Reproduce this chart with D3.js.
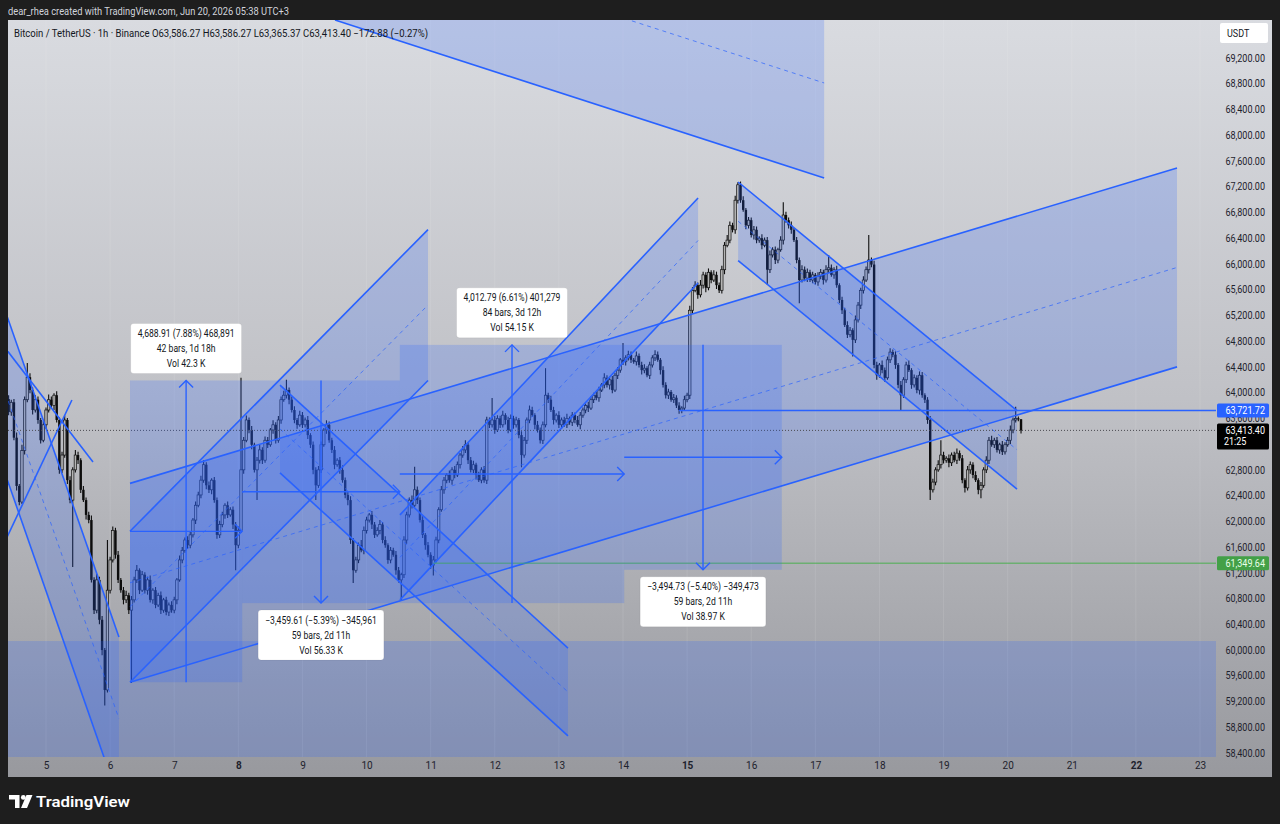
<!DOCTYPE html>
<html><head><meta charset="utf-8">
<script src="https://cdn.jsdelivr.net/npm/d3@7"></script>
<style>
body{margin:0;background:#1e1e1e;overflow:hidden}
svg{display:block}
text{font-family:Roboto,"Liberation Sans",sans-serif}
</style></head>
<body><svg id="c" width="1280" height="824"></svg>
<script>
// ---------- DATA ----------
const creditText = "dear_rhea created with TradingView.com, Jun 20, 2026 05:38 UTC+3";
const symbolText = "Bitcoin / TetherUS · 1h · Binance  O63,586.27  H63,586.27  L63,365.37  C63,413.40  −172.88 (−0.27%)";
const firstBarUTC = [2026, 5, 4, 10];   // Jun 4, 10:00 (chart time)
const firstOpen = 63900;
// hourly closes
const closes = [
63700,63850,63300,62550,62300,63100,63890,64240,64040,63730,63890,63575,63260,63500,63730,63890,63800,63960,63575,62800,
63030,63575,62640,62330,62800,63030,62950,62490,62330,62100,62020,61090,60620,61090,60470,60000,59380,60930,61400,61860,
61480,61090,60930,60780,60850,60620,60780,61090,61240,60930,61170,60930,61090,60780,60930,60700,60850,60620,60780,60590,
60700,60620,60780,61090,61400,61550,61710,61630,61790,62020,62250,62410,62640,62880,62560,62490,62640,62330,61790,61950,
62100,62250,62100,62180,61950,61630,61860,62800,63260,63575,63420,63190,62800,62950,63110,62950,63260,63190,63420,63500,
63260,63575,63890,63960,64040,63890,63730,63575,63500,63650,63500,63575,63340,63190,62800,62560,62800,63190,63420,63500,
63260,63110,62880,62950,62800,62640,62410,62330,61710,61240,61400,61630,61550,61860,62020,62100,61950,61790,61860,61950,
61710,61630,61400,61550,61480,61240,61090,61170,61710,62100,62330,62250,62490,62330,62020,61790,61630,61480,61320,61400,
61710,62180,62490,62640,62720,62640,62800,62720,62880,63030,63110,63190,62950,62800,62880,62720,62640,62800,62640,63575,
63500,63575,63420,63600,63500,63650,63575,63420,63600,63500,63575,63340,63030,63260,63575,63730,63650,63500,63420,63260,
63500,63960,63890,63730,63575,63650,63500,63575,63500,63600,63540,63650,63575,63500,63650,63730,63800,63760,63890,63960,
63920,64040,64120,64230,64120,64200,64040,64270,64350,64510,64480,64540,64590,64510,64480,64570,64430,64350,64380,64270,
64430,64540,64590,64510,64350,64120,63960,64010,63890,63920,63800,63730,63760,63890,63960,65280,65590,65670,65520,65670,
65830,65630,65870,65750,65830,65670,65590,65910,66290,66370,66600,66530,66990,67230,66990,66840,66600,66680,66450,66530,
66370,66400,66290,66370,65910,66140,66220,66060,66220,66370,66760,66680,66600,66530,66370,66060,65750,65910,65780,65870,
65750,65830,65720,65810,65870,65750,65910,65940,65830,65910,65670,65440,65280,65050,64900,64970,64820,65130,65360,65590,
65750,65910,66060,65990,64430,64270,64430,64350,64230,64510,64630,64590,64430,64120,63960,64200,64430,64350,64120,64230,
64040,64270,63960,63890,63575,62490,62610,62800,62880,63030,62950,62980,62910,63030,62950,63060,62980,62640,62520,62800,
62880,62720,62640,62490,62560,62800,62950,63260,63190,63260,63110,63190,63080,63190,63260,63420,63575,63600,63586.27,63413.40
];
// upper wick above body, in units of $10
const upWick = [
6,4,5,8,3,9,5,22,6,4,7,5,3,6,4,8,5,3,6,4,
5,7,3,6,4,8,5,3,6,4,5,7,4,9,5,6,3,78,5,6,
4,6,3,5,7,4,6,5,8,3,6,4,5,7,3,5,4,6,3,5,
4,6,5,3,7,5,4,6,5,3,6,5,7,7,4,6,3,5,4,6,
5,3,6,4,5,4,6,143,5,7,4,6,3,5,8,4,6,5,3,7,
4,6,5,7,16,4,5,6,3,7,5,4,6,3,5,4,6,5,3,7,
5,4,6,3,5,7,4,5,6,3,5,4,8,6,5,3,6,4,5,7,
4,6,3,5,4,6,5,3,6,5,4,7,36,5,4,6,3,5,4,6,
5,4,6,5,3,7,4,6,5,3,6,7,4,5,6,3,5,4,6,5,
4,34,6,5,4,7,3,5,6,4,5,3,6,5,4,7,5,3,6,4,
5,42,4,6,5,3,6,4,5,7,3,5,4,6,5,4,3,6,5,4,
6,5,3,7,4,5,6,4,5,3,26,4,6,5,3,7,4,5,6,3,
5,4,7,5,3,6,4,5,3,6,4,5,3,6,4,7,5,6,4,8,
5,4,6,3,7,5,4,6,5,8,6,4,7,4,5,6,3,5,4,6,
5,3,6,4,5,7,4,5,3,6,20,5,4,6,3,5,4,7,5,6,
4,5,3,6,5,4,7,20,5,4,6,3,5,4,6,5,3,7,5,4,
6,5,39,4,6,5,3,7,4,5,6,4,5,3,6,4,5,7,3,5,
4,6,5,3,4,6,5,4,7,23,5,3,6,4,5,7,4,5,3,6,
5,4,6,3,5,4,6,5,7,4,5,3,6,4,5,7,4,18,3,0
];
// lower wick below body, in units of $10
const downWick = [
5,6,4,7,5,3,6,4,5,7,4,6,5,3,6,4,5,7,4,6,
5,4,6,5,104,4,6,5,3,7,5,4,6,5,7,8,24,4,5,4,
6,5,4,7,5,6,113,4,5,6,3,5,7,4,6,5,3,6,4,5,
6,4,5,7,3,5,4,6,5,4,6,3,5,4,6,5,7,4,6,5,
4,6,5,3,7,39,5,4,6,3,5,7,4,47,5,6,4,5,3,6,
5,4,6,3,5,7,4,5,6,3,5,4,6,5,7,23,4,5,3,6,
4,5,7,3,6,4,5,8,6,20,4,5,3,6,5,4,7,5,3,6,
5,4,6,5,3,7,4,31,5,6,4,5,3,6,4,5,7,4,6,16,
4,5,3,6,5,4,7,5,3,6,4,5,6,4,5,7,3,5,4,6,
5,4,6,3,5,4,7,5,3,6,4,5,19,4,6,5,3,7,4,5,
6,4,5,3,7,4,5,6,3,5,4,6,5,3,7,4,5,6,3,5,
4,6,3,5,4,7,5,3,6,4,5,6,4,5,3,6,4,7,5,3,
6,4,5,3,7,4,5,6,3,5,4,6,5,3,4,6,5,3,6,4,
5,7,4,5,3,6,4,5,7,3,5,4,6,5,4,3,6,5,4,7,
5,4,6,3,23,5,4,6,5,3,7,4,5,6,3,5,36,4,5,6,
3,5,4,6,5,7,4,5,3,6,4,5,6,3,5,4,26,5,4,6,
5,3,6,4,5,7,4,5,6,3,5,4,6,5,23,4,5,3,6,4,
5,7,4,5,6,16,4,5,3,6,5,4,7,5,3,6,4,5,7,4,
6,5,3,7,13,4,5,6,3,5,4,6,5,4,3,6,5,4,3,4.803
];
const dayTicks = [5,6,7,8,9,10,11,12,13,14,15,16,17,18,19,20,21,22,23];
const priceTicks = [58400,58800,59200,59600,60000,60400,60800,61200,61600,62000,62400,62800,63200,63600,64000,64400,64800,65200,65600,66000,66400,66800,67200,67600,68000,68400,68800,69200];
const priceDomain = [58400, 69200];
// parallel channels: line through (bar1,price1)-(bar2,price2), second line shifted by offset
const channels = [
  {b1:122.2, p1:69790, b2:305.3, p2:67335, off:2954},
  {b1:45.45, p1:59500, b2:437.4, p2:64400, off:3090},
  {b1:45.45, p1:59500, b2:157.0, p2:64188.91, off:2345},
  {b1:101.6, p1:64118, b2:209.4, p2:60031, off:-1365},
  {b1:146.5, p1:60780, b2:258.1, p2:65704, off:1320},
  {b1:273.1, p1:67273, b2:377.5, p2:63721.72, off:-1220},
  {b1:-10,   p1:66310, b2:41.3,  p2:60202, off:-2533}
];
const trendLines = [
  {b1:-5, p1:64895, b2:31.6, p2:62922},
  {b1:-5, p1:61368, b2:23.7, p2:63885}
];
const hLines = [
  {b:251, p:63721.72, kind:"blue"},
  {b:159, p:61349.64, kind:"green"}
];
const bands = [{b1:-40, b2:520, p1:56000, p2:60140}];
const measures = [
  {b1:45.45,  b2:87.45,  p1:59500.00, p2:64188.91, lines:["4,688.91 (7.88%) 468,891","42 bars, 1d 18h","Vol 42.3 K"]},
  {b1:87.45,  b2:146.45, p1:64188.91, p2:60729.30, lines:["−3,459.61 (−5.39%) −345,961","59 bars, 2d 11h","Vol 56.33 K"]},
  {b1:146.45, b2:230.45, p1:60729.30, p2:64742.09, lines:["4,012.79 (6.61%) 401,279","84 bars, 3d 12h","Vol 54.15 K"]},
  {b1:230.45, b2:289.45, p1:64742.09, p2:61247.36, lines:["−3,494.73 (−5.40%) −349,473","59 bars, 2d 11h","Vol 38.97 K"]}
];
const lastPrice = 63413.40, countdown = "21:25", currency = "USDT";

// ---------- SETUP ----------
const PL=8, PR=1216, PT=20, PB=757;
const BLUE="#2962ff", FILL="rgba(41,98,255,0.21)";
const t0 = Date.UTC(...firstBarUTC);
const barTime = b => new Date(t0 + b*3600000);
const x = d3.scaleUtc().domain([new Date(Date.UTC(2026,5,5)), new Date(Date.UTC(2026,5,23))]).range([46,1200]);
const y = d3.scaleLinear().domain(priceDomain).range([753,58]);
const X = b => x(barTime(b));

function condense(sel, ratio){
  sel.each(function(){ const w=this.getComputedTextLength(); if(w>0){ this.setAttribute("textLength", (w*ratio).toFixed(1)); this.setAttribute("lengthAdjust","spacingAndGlyphs"); } });
}
function fitWidth(sel, w){ sel.attr("textLength", w).attr("lengthAdjust","spacingAndGlyphs"); }

const svg = d3.select("#c");
const defs = svg.append("defs");
const grad = defs.append("linearGradient").attr("id","bg").attr("gradientUnits","userSpaceOnUse")
  .attr("x1",0).attr("y1",PT).attr("x2",0).attr("y2",777);
grad.append("stop").attr("offset",0).attr("stop-color","#d9dbe0");
grad.append("stop").attr("offset",0.5).attr("stop-color","#c0c1c6");
grad.append("stop").attr("offset",1).attr("stop-color","#98999e");
defs.append("clipPath").attr("id","plot").append("rect").attr("x",PL).attr("y",PT).attr("width",PR-PL).attr("height",PB-PT);

svg.append("rect").attr("width",1280).attr("height",824).attr("fill","#1e1e1e");
svg.append("rect").attr("x",PL).attr("y",PT).attr("width",1272-PL).attr("height",777-PT).attr("fill","url(#bg)");

// header credit
svg.append("text").attr("x",8).attr("y",15).attr("font-size",10.5).attr("fill","#d1d4dc").text(creditText).call(fitWidth,281);

const plot = svg.append("g").attr("clip-path","url(#plot)");

// grid
plot.append("g").selectAll("line").data(dayTicks).join("line")
  .attr("x1",d=>x(new Date(Date.UTC(2026,5,d)))).attr("x2",d=>x(new Date(Date.UTC(2026,5,d))))
  .attr("y1",PT).attr("y2",PB).attr("stroke","rgba(255,255,255,0.10)");

// candles
const bars = closes.map((c,i)=>{ const o = i===0?firstOpen:closes[i-1]; return {i,o,c,h:Math.max(o,c)+upWick[i]*10,l:Math.min(o,c)-downWick[i]*10}; });
const cg = plot.append("g");
cg.selectAll("line").data(bars).join("line")
  .attr("x1",d=>X(d.i)).attr("x2",d=>X(d.i)).attr("y1",d=>y(d.h)).attr("y2",d=>y(d.l))
  .attr("stroke","#0e0e0e").attr("stroke-width",1.1);
cg.selectAll("rect").data(bars).join("rect")
  .attr("x",d=>X(d.i)-1.2).attr("width",2.4)
  .attr("y",d=>y(Math.max(d.o,d.c))).attr("height",d=>Math.max(1,Math.abs(y(d.o)-y(d.c))))
  .attr("fill",d=>d.c>=d.o?"#b4b4b4":"#0c0c0c")
  .attr("stroke",d=>d.c>=d.o?"#111":"none").attr("stroke-width",0.7);

// drawings
const dg = plot.append("g");
bands.forEach(b=>{
  dg.append("rect").attr("x",X(b.b1)).attr("width",X(b.b2)-X(b.b1))
    .attr("y",y(b.p2)).attr("height",y(b.p1)-y(b.p2)).attr("fill",FILL);
});
channels.forEach(c=>{
  const A=[X(c.b1),y(c.p1)], B=[X(c.b2),y(c.p2)], C=[X(c.b2),y(c.p2+c.off)], D=[X(c.b1),y(c.p1+c.off)];
  dg.append("path").attr("d",d3.line()([A,B,C,D])+"Z").attr("fill",FILL);
  dg.append("path").attr("d",d3.line()([A,B])).attr("stroke",BLUE).attr("stroke-width",1.6).attr("fill","none");
  dg.append("path").attr("d",d3.line()([D,C])).attr("stroke",BLUE).attr("stroke-width",1.6).attr("fill","none");
  dg.append("path").attr("d",d3.line()([[X(c.b1),y(c.p1+c.off/2)],[X(c.b2),y(c.p2+c.off/2)]]))
    .attr("stroke",BLUE).attr("stroke-opacity",0.7).attr("stroke-width",1).attr("stroke-dasharray","4 4").attr("fill","none");
});
trendLines.forEach(t=>{
  dg.append("line").attr("x1",X(t.b1)).attr("y1",y(t.p1)).attr("x2",X(t.b2)).attr("y2",y(t.p2))
    .attr("stroke",BLUE).attr("stroke-width",1.6);
});
hLines.forEach(h=>{
  dg.append("line").attr("x1",X(h.b)).attr("x2",PR+5).attr("y1",y(h.p)).attr("y2",y(h.p))
    .attr("stroke",h.kind==="green"?"#4caf50":BLUE).attr("stroke-width",h.kind==="green"?1:1.6);
});
// current price dotted line
dg.append("line").attr("x1",PL).attr("x2",PR).attr("y1",y(lastPrice)).attr("y2",y(lastPrice))
  .attr("stroke","#4a4a50").attr("stroke-width",1).attr("stroke-dasharray","1 2");

// measures
const lab = plot.append("g");
measures.forEach(m=>{
  const x1=X(m.b1), x2=X(m.b2), ya=y(m.p1), yb=y(m.p2);
  const top=Math.min(ya,yb), bot=Math.max(ya,yb), xm=(x1+x2)/2, ym=(ya+yb)/2;
  const up = m.p2>m.p1;
  dg.append("rect").attr("x",x1).attr("width",x2-x1).attr("y",top).attr("height",bot-top).attr("fill",FILL);
  dg.append("line").attr("x1",xm).attr("x2",xm).attr("y1",ya).attr("y2",yb).attr("stroke",BLUE).attr("stroke-width",1.4);
  const s = up?7:-7;
  dg.append("path").attr("d",`M${xm-7},${yb+s}L${xm},${yb}L${xm+7},${yb+s}`).attr("fill","none").attr("stroke",BLUE).attr("stroke-width",1.4);
  dg.append("line").attr("x1",x1).attr("x2",x2).attr("y1",ym).attr("y2",ym).attr("stroke",BLUE).attr("stroke-width",1.4);
  dg.append("path").attr("d",`M${x2-7},${ym-7}L${x2},${ym}L${x2-7},${ym+7}`).attr("fill","none").attr("stroke",BLUE).attr("stroke-width",1.4);
  const g = lab.append("g");
  const box = g.append("rect");
  const by = up ? top-7-50 : bot+7;
  const ts = g.selectAll("text").data(m.lines).join("text")
    .attr("x",xm).attr("y",(d,i)=>by+13.5+i*15).attr("text-anchor","middle")
    .attr("font-size",10).attr("fill","#131722").text(d=>d);
  condense(ts,0.86);
  let w=0; ts.each(function(){ w=Math.max(w,+this.getAttribute("textLength")||this.getComputedTextLength()); });
  const bw = w+14;
  box.attr("x",xm-bw/2).attr("y",by).attr("width",bw).attr("height",50).attr("rx",3)
    .attr("fill","#ffffff").attr("stroke","rgba(0,0,0,0.06)");
});

// symbol header
svg.append("text").attr("x",14).attr("y",37).attr("font-size",10.5).attr("fill","#131722").text(symbolText).call(fitWidth,414);

// price axis (ticks fully covered by the last-price label are not drawn, as on the platform)
const yLast = y(lastPrice);
const shownTicks = priceTicks.filter(p => !(y(p) > yLast-2 && y(p) < yLast+20));
const ya = svg.append("g").attr("transform","translate(1265,0)")
  .call(d3.axisRight(y).tickValues(shownTicks).tickFormat(d3.format(",.2f")).tickSize(0).tickPadding(0));
ya.select(".domain").remove();
ya.selectAll("text").attr("x",0).attr("text-anchor","end").attr("font-size",10).attr("fill","#1e222d")
  .attr("font-family","Roboto, sans-serif");
condense(ya.selectAll("text"),0.9);

// time axis
const xa = svg.append("g").attr("transform","translate(0,762)")
  .call(d3.axisBottom(x).tickValues(dayTicks.map(d=>new Date(Date.UTC(2026,5,d)))).tickFormat(d3.utcFormat("%-d")).tickSize(0).tickPadding(0));
xa.select(".domain").remove();
xa.selectAll("text").attr("font-size",10).attr("fill","#1e222d").attr("font-family","Roboto, sans-serif")
  .attr("font-weight",d=>d.getUTCDay()===1?"700":"400");

// axis price labels
function axisBox(p, bg, fg, txt){
  const yc=y(p);
  svg.append("rect").attr("x",1217).attr("y",yc-7).attr("width",52).attr("height",14).attr("rx",1.5).attr("fill",bg);
  svg.append("text").attr("x",1265).attr("y",yc+3.6).attr("text-anchor","end").attr("font-size",10).attr("fill",fg).text(txt).call(condense,0.9);
}
axisBox(hLines[0].p, BLUE, "#ffffff", d3.format(",.2f")(hLines[0].p));
axisBox(hLines[1].p, "#43a047", "#e8ffe8", d3.format(",.2f")(hLines[1].p));
{
  const yc=y(lastPrice);
  svg.append("rect").attr("x",1217).attr("y",yc-7).attr("width",52).attr("height",26).attr("rx",1.5).attr("fill","#000");
  svg.append("text").attr("x",1265).attr("y",yc+3.6).attr("text-anchor","end").attr("font-size",10).attr("fill","#fff").text(d3.format(",.2f")(lastPrice)).call(condense,0.9);
  svg.append("text").attr("x",1224).attr("y",yc+15).attr("font-size",10).attr("fill","#fff").text(countdown).call(condense,0.9);
}
svg.append("rect").attr("x",1220).attr("y",23).attr("width",48).attr("height",20).attr("rx",2).attr("fill","#fff");
svg.append("text").attr("x",1227).attr("y",37).attr("font-size",10).attr("fill","#131722").text(currency).call(condense,0.9);

// logo
const lg = svg.append("g").attr("fill","#ffffff");
lg.append("path").attr("d","M9,795H19.5V808H15V799.5H9Z");
lg.append("circle").attr("cx",23.3).attr("cy",797.4).attr("r",2.4);
lg.append("path").attr("d","M26.5,795H32.5L27,808H21Z");
lg.append("text").attr("x",36).attr("y",807).attr("font-size",15.5).attr("font-weight",600).attr("fill","#ffffff").text("TradingView").call(fitWidth,94);
</script>
</body></html>
